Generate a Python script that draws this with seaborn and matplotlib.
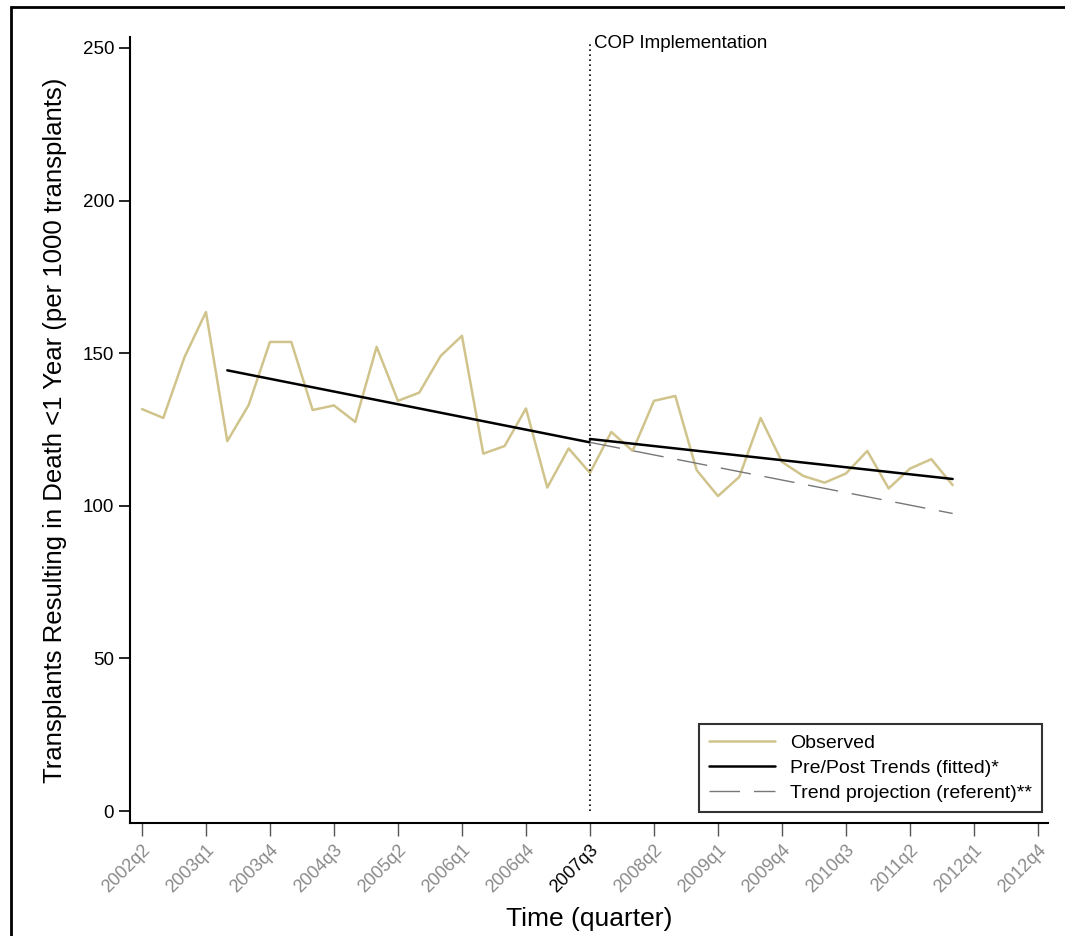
import numpy as np
import pandas as pd
import matplotlib.pyplot as plt
import seaborn as sns
from matplotlib.patches import Rectangle

# quarterly axis 2002q2 .. 2012q4
quarters = [f"{p.year}q{p.quarter}" for p in pd.period_range("2002Q2", "2012Q4", freq="Q")]

# observed rate (per 1000 transplants), 2002q2 .. 2011q4
observed = [131.7, 128.8, 148.8, 163.5, 121.2, 133.0, 153.7, 153.7, 131.4, 132.9,
            127.5, 152.1, 134.4, 137.1, 149.1, 155.7, 117.1, 119.6, 131.9, 106.0,
            118.8, 110.8, 124.2, 118.0, 134.4, 136.0, 111.7, 103.2, 109.5, 128.8,
            114.4, 109.8, 107.6, 110.6, 118.0, 105.7, 112.2, 115.3, 106.8]

# fitted segments (start / end)
pre_q = ["2003q2", "2007q3"]
pre_fit = [144.4, 120.8]
post_q = ["2007q3", "2011q4"]
post_fit = [121.9, 108.8]
proj_q = ["2007q3", "2011q4"]
proj_fit = [120.8, 97.5]

cop_quarter = "2007q3"
tick_every = 3

sns.set_style("ticks")
plt.rcParams['font.family'] = ['Liberation Sans', 'DejaVu Sans']
plt.rcParams['text.color'] = 'black'
plt.rcParams['axes.labelcolor'] = 'black'
plt.rcParams['ytick.color'] = 'black'

idx = {q: i for i, q in enumerate(quarters)}
obs_df = pd.DataFrame({"t": range(len(observed)), "rate": observed})

fig = plt.figure(figsize=(10.65, 9.36), dpi=100)
ax = fig.add_axes([130 / 1065, 1 - 823 / 936, (1048 - 130) / 1065, (823 - 37) / 936])

sns.lineplot(data=obs_df, x="t", y="rate", ax=ax, color="#D0C48C", lw=1.8, label="Observed")
sns.lineplot(x=[idx[q] for q in pre_q], y=pre_fit, ax=ax, color="black", lw=1.8,
             label="Pre/Post Trends (fitted)*")
sns.lineplot(x=[idx[q] for q in post_q], y=post_fit, ax=ax, color="black", lw=1.8)
sns.lineplot(x=[idx[q] for q in proj_q], y=proj_fit, ax=ax, color="#777777", lw=1.0,
             dashes=False, label="Trend projection (referent)**")
ax.lines[-1].set_dashes([22, 10])

cx = idx[cop_quarter]
ax.vlines(cx, 0, 251.5, colors="black", linestyles=(0, (1, 2)), lw=1.2)
ax.text(cx + 0.2, 251.5, "COP Implementation", fontsize=13.5, va="center", ha="left")

ax.set_xlim(-0.56, 42.47)
ax.set_ylim(-3.9, 253.6)
ax.set_yticks([0, 50, 100, 150, 200, 250])
ax.set_xticks(range(0, len(quarters), tick_every))
ax.set_xticklabels(quarters[::tick_every], rotation=45, ha="right", rotation_mode="anchor")
for lab in ax.get_xticklabels():
    lab.set_color("black" if lab.get_text() == cop_quarter else "#8a8a8a")
ax.tick_params(axis="x", length=9, width=1, labelsize=13, color="#555555", pad=4)
ax.tick_params(axis="y", length=8, width=1.2, labelsize=13.5)

sns.despine(ax=ax)
ax.spines["left"].set_linewidth(1.5)
ax.spines["bottom"].set_linewidth(1.5)
ax.spines["left"].set_color("black")
ax.spines["bottom"].set_color("black")

ax.set_xlabel("Time (quarter)", fontsize=19, labelpad=8)
ax.set_ylabel("Transplants Resulting in Death <1 Year (per 1000 transplants)", fontsize=18.5, labelpad=11)

leg = ax.legend(loc="lower right", bbox_to_anchor=(1042 / 1065, 1 - 812 / 936),
                bbox_transform=fig.transFigure, fontsize=14, frameon=True, fancybox=False,
                handlelength=3.4, borderpad=0.5, labelspacing=0.4, handletextpad=0.8,
                borderaxespad=0)
leg.get_frame().set_edgecolor("black")
leg.get_frame().set_linewidth(1.5)

# page frame around the figure
fig.patches.append(Rectangle((11 / 1065, -0.1), 1.2, 1 - 7 / 936 + 0.1, transform=fig.transFigure,
                             fill=False, edgecolor="black", lw=2))

plt.savefig("out.png", dpi=100)
plt.close()
